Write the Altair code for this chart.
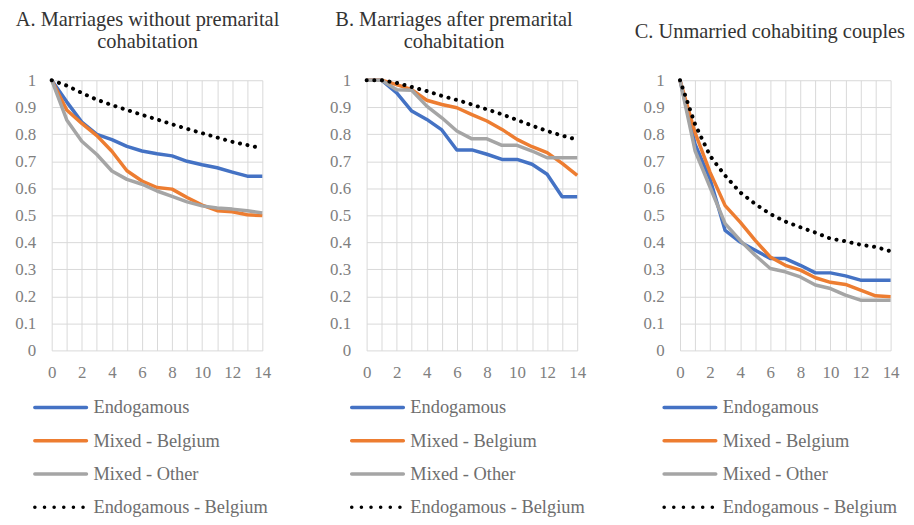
import altair as alt
import pandas as pd

FONT = "Liberation Serif, Times New Roman, serif"

years = list(range(15))
series = ["Endogamous", "Mixed - Belgium", "Mixed - Other", "Endogamous - Belgium"]
colors = ["#4472C4", "#ED7D31", "#A5A5A5", "#000000"]

titles = [
    ["A. Marriages without premarital", "cohabitation"],
    ["B. Marriages after premarital", "cohabitation"],
    "C. Unmarried cohabiting couples",
]

# Panel A
endo_A = [1, 0.92, 0.845, 0.80, 0.78, 0.755, 0.738, 0.728, 0.72, 0.70, 0.687, 0.676, 0.66, 0.645, 0.645]
mixbe_A = [1, 0.89, 0.84, 0.795, 0.737, 0.665, 0.627, 0.603, 0.597, 0.566, 0.538, 0.517, 0.513, 0.502, 0.499]
mixot_A = [1, 0.853, 0.774, 0.725, 0.664, 0.633, 0.615, 0.59, 0.57, 0.55, 0.535, 0.527, 0.523, 0.517, 0.509]
endobe_A = [1, 0.98, 0.953, 0.928, 0.908, 0.89, 0.872, 0.855, 0.837, 0.82, 0.804, 0.788, 0.772, 0.76, 0.748]

# Panel B
endo_B = [1, 1, 0.953, 0.886, 0.855, 0.816, 0.742, 0.742, 0.726, 0.707, 0.707, 0.689, 0.652, 0.569, 0.569]
mixbe_B = [1, 1, 0.984, 0.965, 0.926, 0.91, 0.898, 0.873, 0.849, 0.818, 0.781, 0.754, 0.732, 0.692, 0.648]
mixot_B = [1, 1, 0.965, 0.963, 0.904, 0.861, 0.812, 0.783, 0.783, 0.759, 0.759, 0.738, 0.713, 0.713, 0.713]
endobe_B = [1, 1, 0.99, 0.975, 0.96, 0.942, 0.927, 0.91, 0.892, 0.874, 0.853, 0.832, 0.812, 0.795, 0.78]

# Panel C
endo_C = [1, 0.763, 0.634, 0.444, 0.401, 0.371, 0.34, 0.34, 0.315, 0.287, 0.287, 0.276, 0.26, 0.26, 0.26]
mixbe_C = [1, 0.806, 0.659, 0.536, 0.475, 0.407, 0.346, 0.315, 0.297, 0.269, 0.252, 0.244, 0.223, 0.202, 0.199]
mixot_C = [1, 0.739, 0.604, 0.469, 0.407, 0.352, 0.303, 0.291, 0.272, 0.242, 0.229, 0.205, 0.186, 0.186, 0.186]
endobe_C = [1, 0.837, 0.72, 0.647, 0.585, 0.542, 0.505, 0.477, 0.456, 0.436, 0.414, 0.404, 0.391, 0.383, 0.367]

panels = [
    [endo_A, mixbe_A, mixot_A, endobe_A],
    [endo_B, mixbe_B, mixot_B, endobe_B],
    [endo_C, mixbe_C, mixot_C, endobe_C],
]

y_ticks = [0, 0.1, 0.2, 0.3, 0.4, 0.5, 0.6, 0.7, 0.8, 0.9, 1]

color_scale = alt.Scale(domain=series, range=colors)
leg_dash_scale = alt.Scale(domain=series, range=[[1, 0], [1, 0], [1, 0], [0.1, 9.6]])


def make_panel(vals, title, title_offset, title_dx, legend_x):
    rows = []
    for s, v in zip(series, vals):
        for yr, val in zip(years, v):
            rows.append({"year": yr, "value": val, "series": s})
    df = pd.DataFrame(rows)

    x = alt.X(
        "year:Q",
        scale=alt.Scale(domain=[0, 14], nice=False),
        axis=alt.Axis(
            values=years, title=None, domain=False, ticks=False,
            labelExpr="datum.value % 2 == 0 ? datum.label : ''",
            labelFont=FONT, labelFontSize=17, labelColor="#808080",
            labelPadding=14, gridColor="#d9d9d9", labelFlush=False,
        ),
    )
    y = alt.Y(
        "value:Q",
        scale=alt.Scale(domain=[0, 1], nice=False),
        axis=alt.Axis(
            values=y_ticks, format=".1~f", title=None, domain=False, ticks=False,
            labelFont=FONT, labelFontSize=17, labelColor="#808080",
            labelPadding=16, gridColor="#d9d9d9",
        ),
    )
    base = alt.Chart(df).encode(x=x, y=y)
    solid = base.transform_filter(
        alt.FieldOneOfPredicate(field="series", oneOf=series[:3])
    ).mark_line(strokeWidth=3.5, strokeJoin="round").encode(
        color=alt.Color("series:N", scale=color_scale, legend=None),
        detail="series:N",
    )
    dotted = base.transform_filter(
        alt.FieldEqualPredicate(field="series", equal=series[3])
    ).mark_line(strokeWidth=4, strokeCap="round", strokeDash=[0.1, 7.6], color="#000000")

    plot = (solid + dotted).properties(
        width=212, height=272,
        title=alt.TitleParams(
            text=title, font=FONT, fontSize=20.5, fontWeight="normal", color="#333333",
            anchor="middle", offset=title_offset, lineHeight=22, dx=title_dx,
        ),
    )

    leg_df = pd.DataFrame({"series": series})
    leg_y = alt.Y("series:N", sort=series, axis=None,
                  scale=alt.Scale(type="point", padding=0.25))
    leg_base = alt.Chart(leg_df).encode(y=leg_y)
    rules = leg_base.mark_rule(strokeWidth=3.5, strokeCap="round").encode(
        x=alt.value(legend_x + 2), x2=alt.value(legend_x + 54),
        color=alt.Color("series:N", scale=color_scale, legend=None),
        strokeDash=alt.StrokeDash("series:N", scale=leg_dash_scale, legend=None),
    )
    texts = leg_base.mark_text(
        align="left", baseline="middle", font=FONT, fontSize=18.5, color="#6e6e6e"
    ).encode(x=alt.value(legend_x + 61), text="series:N")
    legend = (rules + texts).properties(width=200, height=117.25)

    return alt.vconcat(plot, legend, spacing=18).resolve_scale(
        x="independent", y="independent", strokeDash="independent"
    )


colA = make_panel(panels[0], titles[0], 19, -9.5, -19)
colB = make_panel(panels[1], titles[1], 19, -18, -17)
colC = make_panel(panels[2], titles[2], 29, -15.5, -18)

chart = alt.hconcat(
    alt.hconcat(colA, colB, spacing=49).resolve_scale(
        x="independent", y="independent", strokeDash="independent"),
    colC, spacing=48.5,
).resolve_scale(
    x="independent", y="independent", strokeDash="independent"
).properties(
    padding={"left": 6, "top": 0, "right": 0, "bottom": 0}
).configure_view(stroke=None)

chart.save("out.html", embed_options={"renderer": "svg", "actions": False})
